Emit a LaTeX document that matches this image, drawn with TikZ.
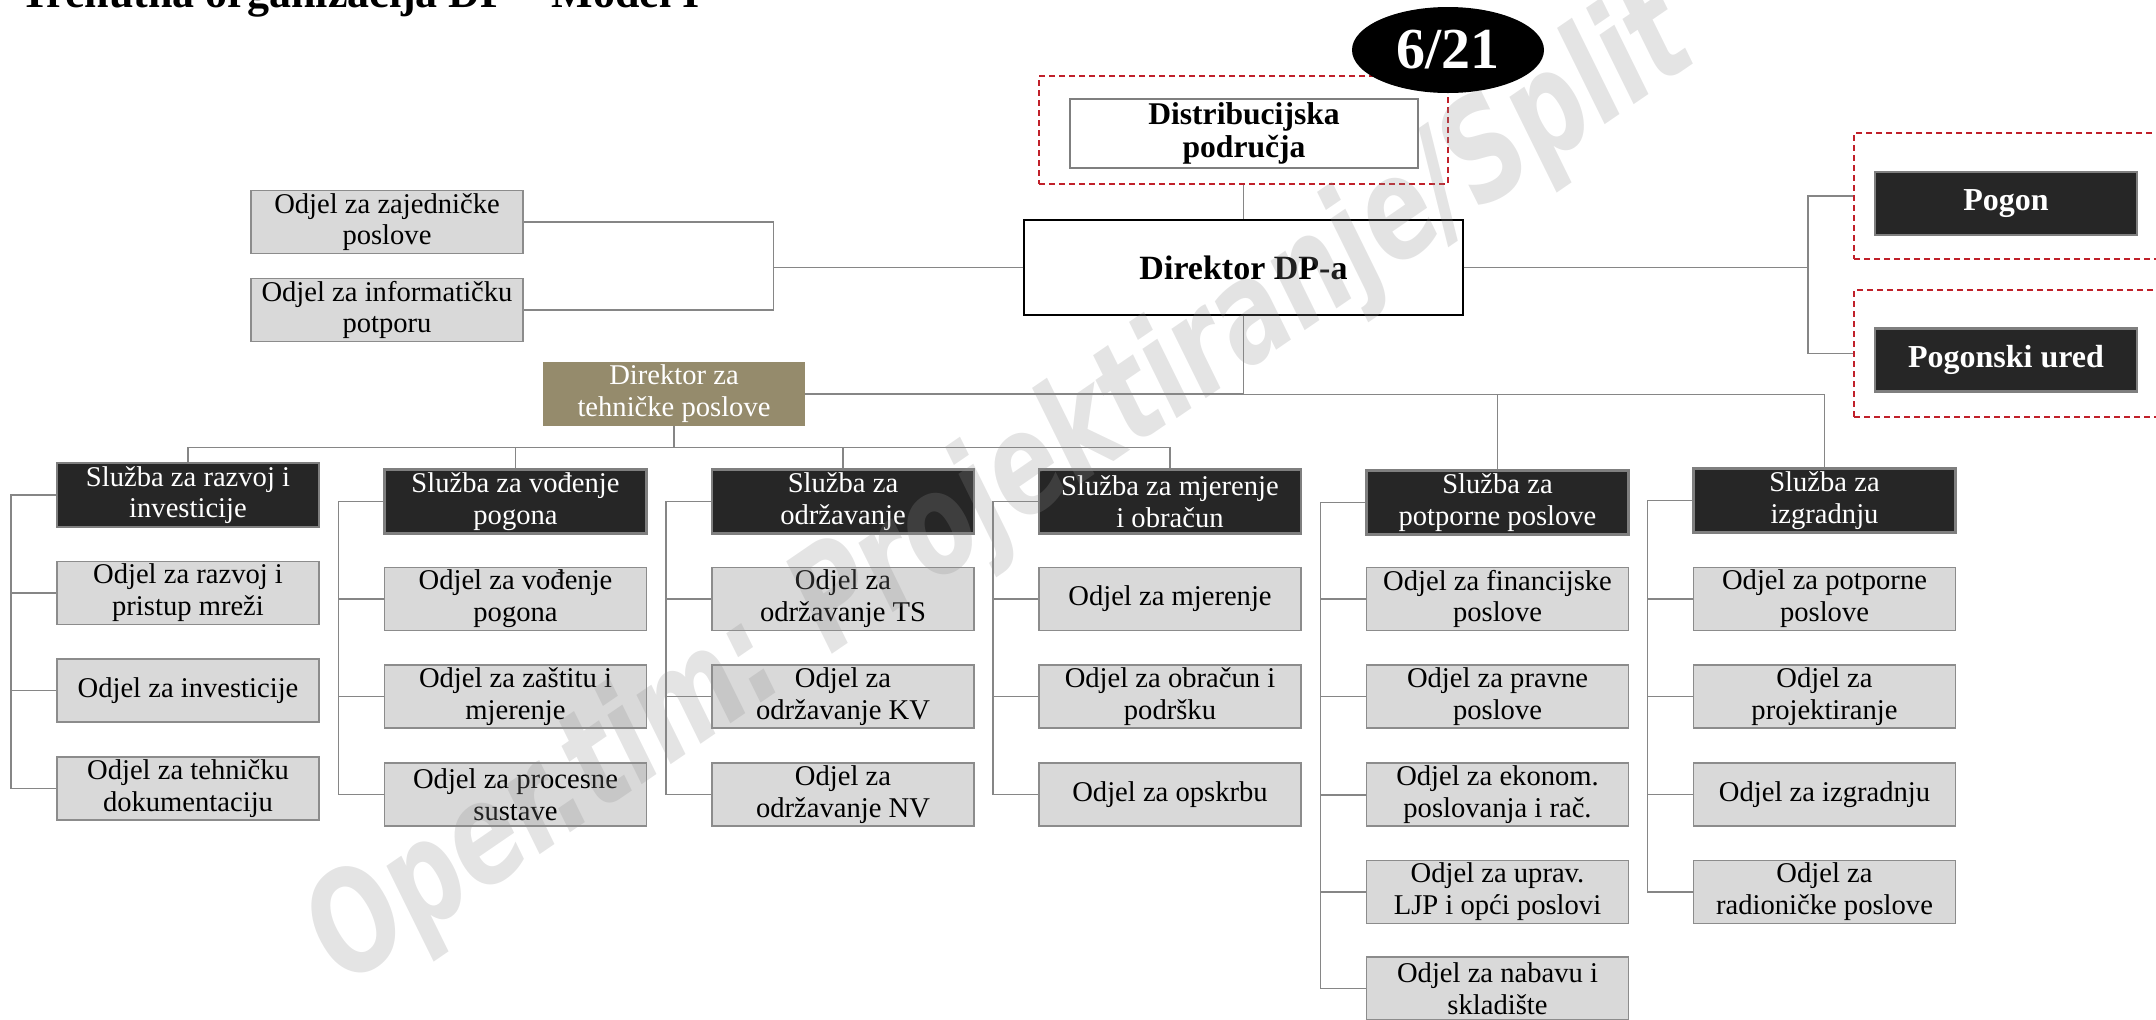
\documentclass[tikz,border=0pt]{standalone}
\usepackage{fontspec}
\setmainfont{Liberation Serif}
\newfontfamily\wmfont{DejaVu Sans}[FakeStretch=0.735]
\usetikzlibrary{shapes.geometric}

\definecolor{odjelfill}{HTML}{D9D9D9}
\definecolor{odjelline}{HTML}{8C8C8C}
\definecolor{sluzbafill}{HTML}{262626}
\definecolor{sluzbaline}{HTML}{7F7F7F}
\definecolor{khaki}{HTML}{958B6C}
\definecolor{dashred}{HTML}{C0202A}
\definecolor{wirecol}{HTML}{868686}
\definecolor{wmgray}{HTML}{8E8E8E}

\begin{document}
\begin{tikzpicture}[
  x=0.5pt, y=-0.5pt,
  box/.style={rectangle, inner sep=0pt, align=center,
              font=\fontsize{14.3}{15.9}\selectfont},
  odjel/.style={box, fill=odjelfill, draw=odjelline, line width=0.9pt,
                minimum width=131pt, minimum height=31.5pt},
  sluzba/.style={box, fill=sluzbafill, draw=sluzbaline, line width=1.2pt,
                 text=white, minimum width=131pt, minimum height=32pt},
  darkbox/.style={box, fill=sluzbafill, draw=sluzbaline, line width=1.2pt,
                  text=white, minimum width=131pt, minimum height=31.5pt,
                  font=\fontsize{16}{18}\selectfont\bfseries},
  frame/.style={rectangle, draw=dashred, line width=0.7pt,
                dash pattern=on 3pt off 2pt, inner sep=0pt},
  wire/.style={draw=wirecol, line width=0.75pt},
]
\useasboundingbox (0,0) rectangle (2156,1019);

% heading
\node[anchor=base west, inner sep=0pt, font=\fontsize{22}{22}\selectfont\bfseries]
  (title) at (20,7.5) {Trenutna organizacija DP – Model I};

% dashed groups
\node[frame, minimum width=204.5pt, minimum height=54pt] (distframe) at (1243.5,130) {};
\node[frame, minimum width=163pt, minimum height=63pt] (pogonframe) at (2017,196) {};
\node[frame, minimum width=163pt, minimum height=63.5pt] (uredframe) at (2017,353.5) {};

% top management
\node[box, draw=black, fill=white, line width=0.6pt, minimum width=219.5pt,
      minimum height=47.5pt, font=\fontsize{17}{20}\selectfont\bfseries]
  (ddp) at (1243.5,267.5) {Direktor DP-a};
\node[box, draw=sluzbaline, fill=white, line width=1.3pt, minimum width=174pt,
      minimum height=34.5pt, font=\fontsize{15.8}{16.5}\selectfont\bfseries]
  (dist) at (1244,133.5) {Distribucijska\\područja};
\node[darkbox] (pogon) at (2006,203.5) {Pogon};
\node[darkbox] (ured) at (2006,360) {Pogonski ured};
\node[odjel, minimum width=136pt] (oz) at (387,222) {Odjel za zajedničke\\poslove};
\node[odjel, minimum width=136pt] (oi) at (387,310) {Odjel za informatičku\\potporu};
\node[box, fill=khaki, text=white, minimum width=131pt, minimum height=32pt]
  (dtp) at (674,394) {Direktor za\\tehničke poslove};

% services
\node[sluzba] (s1) at (188,495)    {Služba za razvoj i\\investicije};
\node[sluzba] (s2) at (515.5,501.5) {Služba za vođenje\\pogona};
\node[sluzba] (s3) at (843,501.5)  {Služba za\\održavanje};
\node[sluzba] (s4) at (1170,501.5) {Služba za mjerenje\\i obračun};
\node[sluzba] (s5) at (1497.5,502.5) {Služba za\\potporne poslove};
\node[sluzba] (s6) at (1824.5,500.5) {Služba za\\izgradnju};

% departments
\node[odjel] (o11) at (188,593)   {Odjel za razvoj i\\pristup mreži};
\node[odjel] (o12) at (188,690.5) {Odjel za investicije};
\node[odjel] (o13) at (188,788.5) {Odjel za tehničku\\dokumentaciju};

\node[odjel] (o21) at (515.5,599)   {Odjel za vođenje\\pogona};
\node[odjel] (o22) at (515.5,696.5) {Odjel za zaštitu i\\mjerenje};
\node[odjel] (o23) at (515.5,794.5) {Odjel za procesne\\sustave};

\node[odjel] (o31) at (843,599)   {Odjel za\\održavanje TS};
\node[odjel] (o32) at (843,696.5) {Odjel za\\održavanje KV};
\node[odjel] (o33) at (843,794.5) {Odjel za\\održavanje NV};

\node[odjel] (o41) at (1170,599)   {Odjel za mjerenje};
\node[odjel] (o42) at (1170,696.5) {Odjel za obračun i\\podršku};
\node[odjel] (o43) at (1170,794.5) {Odjel za opskrbu};

\node[odjel] (o51) at (1497.5,599)    {Odjel za financijske\\poslove};
\node[odjel] (o52) at (1497.5,696.5)  {Odjel za pravne\\poslove};
\node[odjel] (o53) at (1497.5,794.75) {Odjel za ekonom.\\poslovanja i rač.};
\node[odjel] (o54) at (1497.5,892)    {Odjel za uprav.\\LJP i opći poslovi};
\node[odjel] (o55) at (1497.5,988.5)  {Odjel za nabavu i\\skladište};

\node[odjel] (o61) at (1824.5,599)   {Odjel za potporne\\poslove};
\node[odjel] (o62) at (1824.5,696.5) {Odjel za\\projektiranje};
\node[odjel] (o63) at (1824.5,794.5) {Odjel za izgradnju};
\node[odjel] (o64) at (1824.5,892)   {Odjel za\\radioničke poslove};

% connectors around the director
\draw[wire] (distframe.south) -- (ddp.north);
\draw[wire] (ddp.west) -- ++(-250,0) |- (oz.east);
\draw[wire] (ddp.west) -- ++(-250,0) |- (oi.east);
\draw[wire] (ddp.east) -- ++(344.5,0) |- (pogonframe.west);
\draw[wire] (ddp.east) -- ++(344.5,0) |- (uredframe.west);
\draw[wire] (ddp.south) |- (dtp.east);
\draw[wire] (ddp.south) -- ++(0,79) -| (s5.north);
\draw[wire] (ddp.south) -- ++(0,79) -| (s6.north);

% technical director to its services
\foreach \s in {s1,s2,s3,s4}
  \draw[wire] (dtp.south) -- ++(0,21) -| (\s.north);

% services to departments
\foreach \s/\list in {s1/{o11,o12,o13}, s2/{o21,o22,o23}, s3/{o31,o32,o33},
                      s4/{o41,o42,o43}, s5/{o51,o52,o53,o54,o55},
                      s6/{o61,o62,o63,o64}}
  \foreach \o in \list
    \draw[wire] (\s.west) -- ++(-45,0) |- (\o.west);

% page badge
\node[ellipse, fill=black, inner sep=0pt, minimum width=96pt, minimum height=43pt,
      text=white, font=\fontsize{29}{29}\selectfont\bfseries]
  (badge) at (1448,50) {6/21};

% watermark
\node[rotate=34.4, anchor=base, inner sep=0pt, text=wmgray, text opacity=0.24,
      font=\wmfont\fontsize{70}{70}\selectfont\bfseries\itshape]
  (wm) at (1024,523) {Oper.tim: Projektiranje/Split};
\end{tikzpicture}
\end{document}
